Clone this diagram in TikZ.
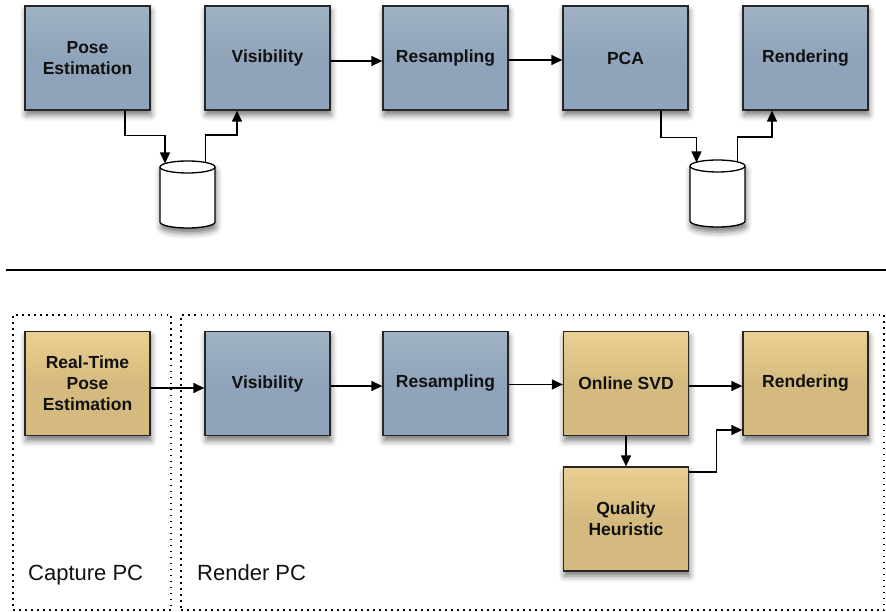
\documentclass[tikz,border=0pt]{standalone}
\usepackage{fontspec}
\setmainfont{Liberation Sans}
\usetikzlibrary{arrows.meta,shadows.blur}
\definecolor{boxblue}{HTML}{8FA4BA}
\definecolor{boxbluetop}{HTML}{A0B2C5}
\definecolor{boxtan}{HTML}{D4BA7E}
\definecolor{boxtantop}{HTML}{EBD093}
\definecolor{inktext}{HTML}{111111}
\begin{document}
\begin{tikzpicture}[x=1pt,y=1pt,
  procbox/.style={draw=black!85, line width=1.3pt, minimum width=125, minimum height=104,
    align=center, inner sep=2pt, font=\fontsize{17.5}{21}\selectfont\bfseries, text=inktext,
    blur shadow={shadow xshift=1pt, shadow yshift=-5pt, shadow blur radius=6pt, shadow opacity=55}},
  bluebox/.style={procbox, top color=boxbluetop, bottom color=boxblue, middle color=boxblue},
  tanbox/.style={procbox, top color=boxtantop, bottom color=boxtan, middle color=boxtan},
  dbnode/.style={minimum width=55, minimum height=67, inner sep=0pt, outer sep=0pt},
  cyl/.style={draw=black, line width=1.3pt, fill=white,
    blur shadow={shadow xshift=1pt, shadow yshift=-5pt, shadow blur radius=6pt, shadow opacity=55}},
  arr/.style={draw=black, line width=1.3pt, -{Triangle[length=11pt,width=10pt]}},
  zone/.style={draw=black, line width=1.3pt, dash pattern=on 1.5pt off 4.5pt, inner sep=0pt, outer sep=0pt},
  zlabel/.style={font=\fontsize{22}{26}\selectfont, text=inktext, inner sep=0pt}
]
\useasboundingbox (0,0) rectangle (886,-612);

% ---------- top row ----------
\node[bluebox] (pose) at (87.5,-58) {Pose\\Estimation};
\node[bluebox] (vis)  at (267.5,-58) {Visibility};
\node[bluebox] (res)  at (445.5,-58) {Resampling};
\node[bluebox] (pca)  at (625.5,-58) {PCA};
\node[bluebox] (rend) at (805.5,-58) {Rendering};

% databases
\node[dbnode] (db1) at (187.5,-194.5) {};
\node[dbnode] (db2) at (717.5,-193.5) {};
\foreach \d in {db1,db2}{
  \draw[cyl] ([yshift=-6]\d.north west) -- ([yshift=6]\d.south west)
    arc[start angle=180, end angle=360, x radius=27.5, y radius=6]
    -- ([yshift=-6]\d.north east)
    arc[start angle=0, end angle=180, x radius=27.5, y radius=6] -- cycle;
  \draw[line width=1.3pt] ([yshift=-6]\d.north west)
    arc[start angle=180, end angle=360, x radius=27.5, y radius=6];
}

\draw[arr] ([xshift=37.5]pose.south) -- ++(0,-25) -| ([xshift=-22.5,yshift=-2.5]db1.north);
\draw[arr] ([xshift=18,yshift=-1.5]db1.north) -- ++(0,27.5) -| ([xshift=-30.5]vis.south);
\draw[arr] ([yshift=-3]vis.east) -- ([yshift=-3]res.west);
\draw[arr] ([yshift=-2]res.east) -- ([yshift=-2]pca.west);
\draw[arr] ([xshift=35.5]pca.south) -- ++(0,-27) -| ([xshift=-21,yshift=-2.5]db2.north);
\draw[arr] ([xshift=20,yshift=-1.5]db2.north) -- ++(0,24.5) -| ([xshift=-33.5]rend.south);

% divider
\coordinate (divL) at (6,-270);
\coordinate (divR) at (886,-270);
\draw[line width=1.3pt] (divL) -- (divR);

% ---------- bottom ----------
\node[zone, minimum width=158, minimum height=295] (capture) at (92,-462.5) {};
\node[zone, minimum width=703, minimum height=295] (render) at (532.5,-462.5) {};
\node[zlabel, anchor=base west] (caplbl) at (28,-580) {Capture PC};
\node[zlabel, anchor=base west] (renlbl) at (197,-580) {Render PC};

\node[tanbox]  (rt)    at (87.5,-383.5) {Real-Time\\Pose\\Estimation};
\node[bluebox] (vis2)  at (267.5,-383.5) {Visibility};
\node[bluebox] (res2)  at (445.5,-383.5) {Resampling};
\node[tanbox]  (svd)   at (626,-383.5) {Online SVD};
\node[tanbox]  (rend2) at (805.5,-383.5) {Rendering};
\node[tanbox]  (qual)  at (626,-519) {Quality\\Heuristic};

\draw[arr] ([yshift=-4.5]rt.east) -- ([yshift=-4.5]vis2.west);
\draw[arr] ([yshift=-2.5]vis2.east) -- ([yshift=-2.5]res2.west);
\draw[arr] ([yshift=-1]res2.east) -- ([yshift=-1]svd.west);
\draw[arr] ([yshift=-2.5]svd.east) -- ([yshift=-2.5]rend2.west);
\draw[arr] (svd.south) -- (qual.north);
\draw[arr] ([yshift=47]qual.east) -- ++(27,0) |- ([yshift=-46.5]rend2.west);
\end{tikzpicture}
\end{document}
